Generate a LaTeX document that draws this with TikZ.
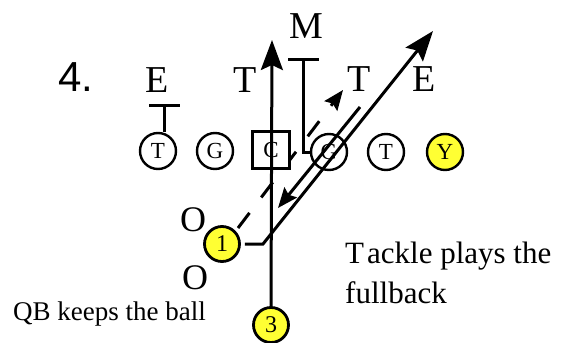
\documentclass[tikz,border=0pt]{standalone}
\usepackage{fontspec}
\setmainfont{Liberation Serif}
\newfontfamily\arialf{Liberation Sans}
\usetikzlibrary{arrows.meta}
\definecolor{yel}{RGB}{255,255,51}
\begin{document}
\begin{tikzpicture}[x=1pt,y=-1pt,
  lineman/.style={circle,draw,line width=2.4pt,minimum size=36pt,inner sep=0pt,font=\fontsize{23}{23}\selectfont},
  centre/.style={rectangle,draw,fill=white,line width=2.4pt,minimum size=37pt,inner sep=0pt,font=\fontsize{23}{23}\selectfont},
  back/.style={circle,draw,fill=yel,line width=2.8pt,minimum size=35pt,inner sep=0pt,font=\fontsize{24}{24}\selectfont},
  defl/.style={font=\fontsize{38}{38}\selectfont,inner sep=0pt},
  route/.style={line width=3pt},
  bigtip/.style={-{Stealth[length=30pt,width=22pt,inset=5pt]}},
  smalltip/.style={-{Stealth[length=20pt,width=16pt,inset=3pt]}},
  txt/.style={inner sep=0pt,anchor=base west},
]
\useasboundingbox (0,0) rectangle (571,343);

% title
\node[inner sep=0pt,font=\arialf\fontsize{42}{42}\selectfont] (num) at (76,77) {4.};

% defenders
\node[defl] (dE1) at (157,80) {E};
\node[defl] (dT1) at (245,80) {T};
\node[defl] (dM) at (306,26) {M};
\node[defl] (dT2) at (359,79) {T};
\node[defl] (dE2) at (424,79) {E};
\node[defl,font=\fontsize{36}{36}\selectfont] (o1) at (193,220) {O};
\node[defl,font=\fontsize{36}{36}\selectfont] (o2) at (195,278) {O};

% offensive line
\node[lineman] (lt) at (158,151) {T};
\node[lineman] (lg) at (215,151) {G};
\node[lineman] (rg) at (329,152) {G};
\node[lineman] (rt) at (386,152) {T};
\node[back,line width=2.4pt,minimum size=36pt,font=\fontsize{23}{23}\selectfont] (y) at (445,152) {Y};

% backs
\node[back] (n1) at (222,244) {1};
\node[back] (n3) at (271,325) {3};

% coordinates
\coordinate (dS) at (238,228);
\coordinate (dT) at (343,90);
\coordinate (bend) at (263,244);
\coordinate (tipA) at (433,31);
\coordinate (tS) at (360,107);
\coordinate (tE) at (278,208);
\coordinate (va) at (272,40);
\coordinate (eb) at (164,105);
\coordinate (mb) at (303,59);

% dashed option route
\draw[route,smalltip,dash pattern=on 19pt off 19.4pt] (dS) -- (dT);

% centre
\node[centre] (c) at (271,150) {C};

% blocks
\draw[route] (eb) -- (eb |- lt.north);
\draw[route] ([xshift=-15pt]eb) -- ([xshift=16pt]eb);
\draw[route] (mb) |- (rg.west);
\draw[route] ([xshift=-15pt]mb) -- ([xshift=16pt]mb);

% QB keeps
\draw[route,bigtip] (n3.north) -- (va);

% fullback / tackle routes
\draw[route,bigtip] ([xshift=4pt]n1.east) -- (bend) -- (tipA);
\draw[route,smalltip] (tS) -- (tE);

% texts
\node[txt,font=\fontsize{27}{27}\selectfont] (qb) at (13,320) {QB keeps the ball};
\node[txt,font=\fontsize{31}{31}\selectfont] (tk1) at (345,263) {T\kern3pt ackle plays the};
\node[txt,font=\fontsize{31}{31}\selectfont] (tk2) at (345,303) {fullback};
\end{tikzpicture}
\end{document}
